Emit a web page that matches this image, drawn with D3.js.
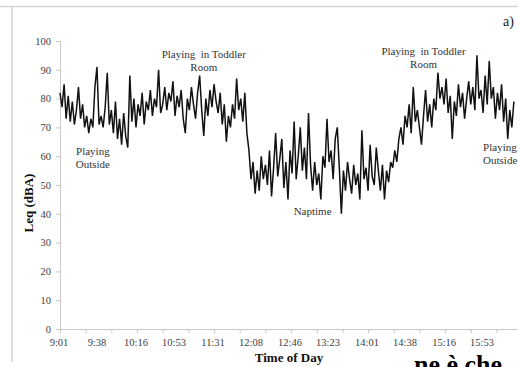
<!DOCTYPE html>
<html>
<head>
<meta charset="utf-8">
<script src="https://cdn.jsdelivr.net/npm/d3@7"></script>
<style>
  body { margin: 0; background: #fff; }
  svg { display: block; font-family: "Liberation Serif", "Times New Roman", serif; }
</style>
</head>
<body>
<div id="chart"></div>
<script>
// minutes after 9:01, one reading every 2 minutes
const stepMinutes = 2;
const leqValues = [
  82, 77, 85, 73, 81, 72, 79, 71, 76, 84, 73, 78, 70, 74, 68, 73, 70, 84, 91, 71,
  74, 70, 77, 89, 71, 76, 68, 79, 66, 73, 64, 75, 67, 63, 88,
  72, 80, 70, 78, 74, 82, 71, 79, 76, 83, 74, 80, 77, 90, 75,
  78, 84, 76, 82, 79, 86, 74, 81, 77, 83, 73, 68, 80, 76, 84, 78, 73, 82, 88,
  76, 67, 80, 74, 83, 77, 85, 79, 75, 82, 71, 78, 65, 74, 70, 78, 73, 87, 76, 80, 72, 82, 68,
  62, 52, 58, 47,
  55, 48, 60, 52, 57, 50, 62, 46, 56, 68, 53, 59, 66, 49, 58, 45, 62, 54, 72, 52, 60, 70,
  55, 63, 52, 75, 57, 48, 58, 50, 54, 45, 60, 56, 73, 58, 62, 52, 66, 70, 56,
  40, 55, 48, 58, 52, 47, 57, 50, 54, 45, 69, 52, 56, 48, 64, 53, 50, 63, 55, 48, 57, 45, 55, 51, 58,
  56, 62, 58, 66, 70, 64, 74, 70, 78, 68, 84, 72, 76, 70,
  64, 74, 83, 72, 78, 70, 80, 76, 89, 80, 84, 78, 87, 75, 81, 66, 79, 74, 85, 77, 82, 73, 80, 86,
  78, 84, 76, 95, 80, 83, 75, 88, 78, 93, 80, 84, 73, 82, 76,
  85, 72, 80, 66, 76, 70, 79
];
const timeLabels = ['9:01', '9:38', '10:16', '10:53', '11:31', '12:08', '12:46', '13:23', '14:01', '14:38', '15:16', '15:53'];
const yTicks = [0, 10, 20, 30, 40, 50, 60, 70, 80, 90, 100];
const annotations = [
  { lines: ['Playing', 'Outside'], minute: 32, db: 60.4, anchor: 'middle' },
  { lines: ['Playing  in Toddler', 'Room'], minute: 140, db: 94.1, anchor: 'middle' },
  { lines: ['Naptime'], minute: 246, db: 39.6, anchor: 'middle' },
  { lines: ['Playing  in Toddler', 'Room'], minute: 354, db: 95.1, anchor: 'middle' },
  { lines: ['Playing', 'Outside'], minute: 412, db: 61.8, anchor: 'start' }
];

function toMinutes(label) {
  const [h, m] = label.split(':').map(Number);
  return (h * 60 + m) - (9 * 60 + 1);
}

const width = 518, height = 367;
const svg = d3.select('#chart').append('svg')
  .attr('width', width)
  .attr('height', height);

// frame left over from the page crop
svg.append('line').attr('x1', 0).attr('x2', width).attr('y1', 6.5).attr('y2', 6.5)
  .attr('stroke', '#d6d6d6').attr('stroke-width', 1.5);
svg.append('line').attr('x1', 12).attr('x2', 12).attr('y1', 6).attr('y2', 362)
  .attr('stroke', '#d6d6d6').attr('stroke-width', 1.5);

const x = d3.scaleLinear().domain([0, 446]).range([60, 518]);
const y = d3.scaleLinear().domain([0, 100]).range([329, 41]);

// y axis
const yAxis = svg.append('g')
  .attr('transform', 'translate(60,0)')
  .call(d3.axisLeft(y).tickValues(yTicks).tickSize(4).tickPadding(5));
yAxis.select('.domain').attr('stroke', '#c8c8c8');
yAxis.selectAll('.tick line').attr('stroke', '#c8c8c8');
yAxis.selectAll('.tick text')
  .attr('fill', '#404040')
  .style('font-size', '10.5px')
  .style('font-family', '"Liberation Serif", serif');

// x axis: tick marks every 25 minutes, labels every 37.5
const xAxis = svg.append('g')
  .attr('transform', 'translate(0,329)')
  .call(d3.axisBottom(x).tickValues(d3.range(0, 446, 25)).tickSize(4).tickFormat(''));
xAxis.select('.domain').attr('stroke', '#c8c8c8');
xAxis.selectAll('.tick line').attr('stroke', '#c8c8c8');

svg.append('g').selectAll('text')
  .data(timeLabels)
  .enter()
  .append('text')
  .attr('x', d => x(toMinutes(d)) - 1)
  .attr('y', 346)
  .attr('text-anchor', 'middle')
  .attr('fill', '#404040')
  .style('font-size', '10.5px')
  .text(d => d);

// series
const line = d3.line()
  .x((d, i) => x(i * stepMinutes))
  .y(d => y(d));

svg.append('path')
  .datum(leqValues)
  .attr('d', line)
  .attr('fill', 'none')
  .attr('stroke', '#111')
  .attr('stroke-width', 1.5)
  .attr('stroke-linejoin', 'miter');

// annotations
annotations.forEach(a => {
  const t = svg.append('text')
    .attr('text-anchor', a.anchor)
    .attr('fill', '#333')
    .style('font-size', '11px');
  a.lines.forEach((ln, k) => {
    t.append('tspan')
      .attr('x', x(a.minute))
      .attr('y', y(a.db) + k * 13)
      .attr('xml:space', 'preserve')
      .text(ln);
  });
});

// titles
svg.append('text')
  .attr('x', 289).attr('y', 362)
  .attr('text-anchor', 'middle')
  .style('font-size', '13px').style('font-weight', 'bold')
  .attr('fill', '#111')
  .text('Time of Day');

svg.append('text')
  .attr('transform', 'translate(33,203) rotate(-90)')
  .attr('text-anchor', 'middle')
  .style('font-size', '13px').style('font-weight', 'bold')
  .attr('fill', '#111')
  .text('Leq (dBA)');

svg.append('text')
  .attr('x', 503).attr('y', 26)
  .style('font-size', '14px')
  .attr('fill', '#222')
  .text('a)');

// cropped text from the page below the figure
svg.append('text')
  .attr('x', 414).attr('y', 373)
  .style('font-size', '26px')
  .style('font-family', '"Liberation Serif", serif')
  .style('font-weight', 'bold')
  .attr('fill', '#000')
  .text('ne è che');
</script>
</body>
</html>
